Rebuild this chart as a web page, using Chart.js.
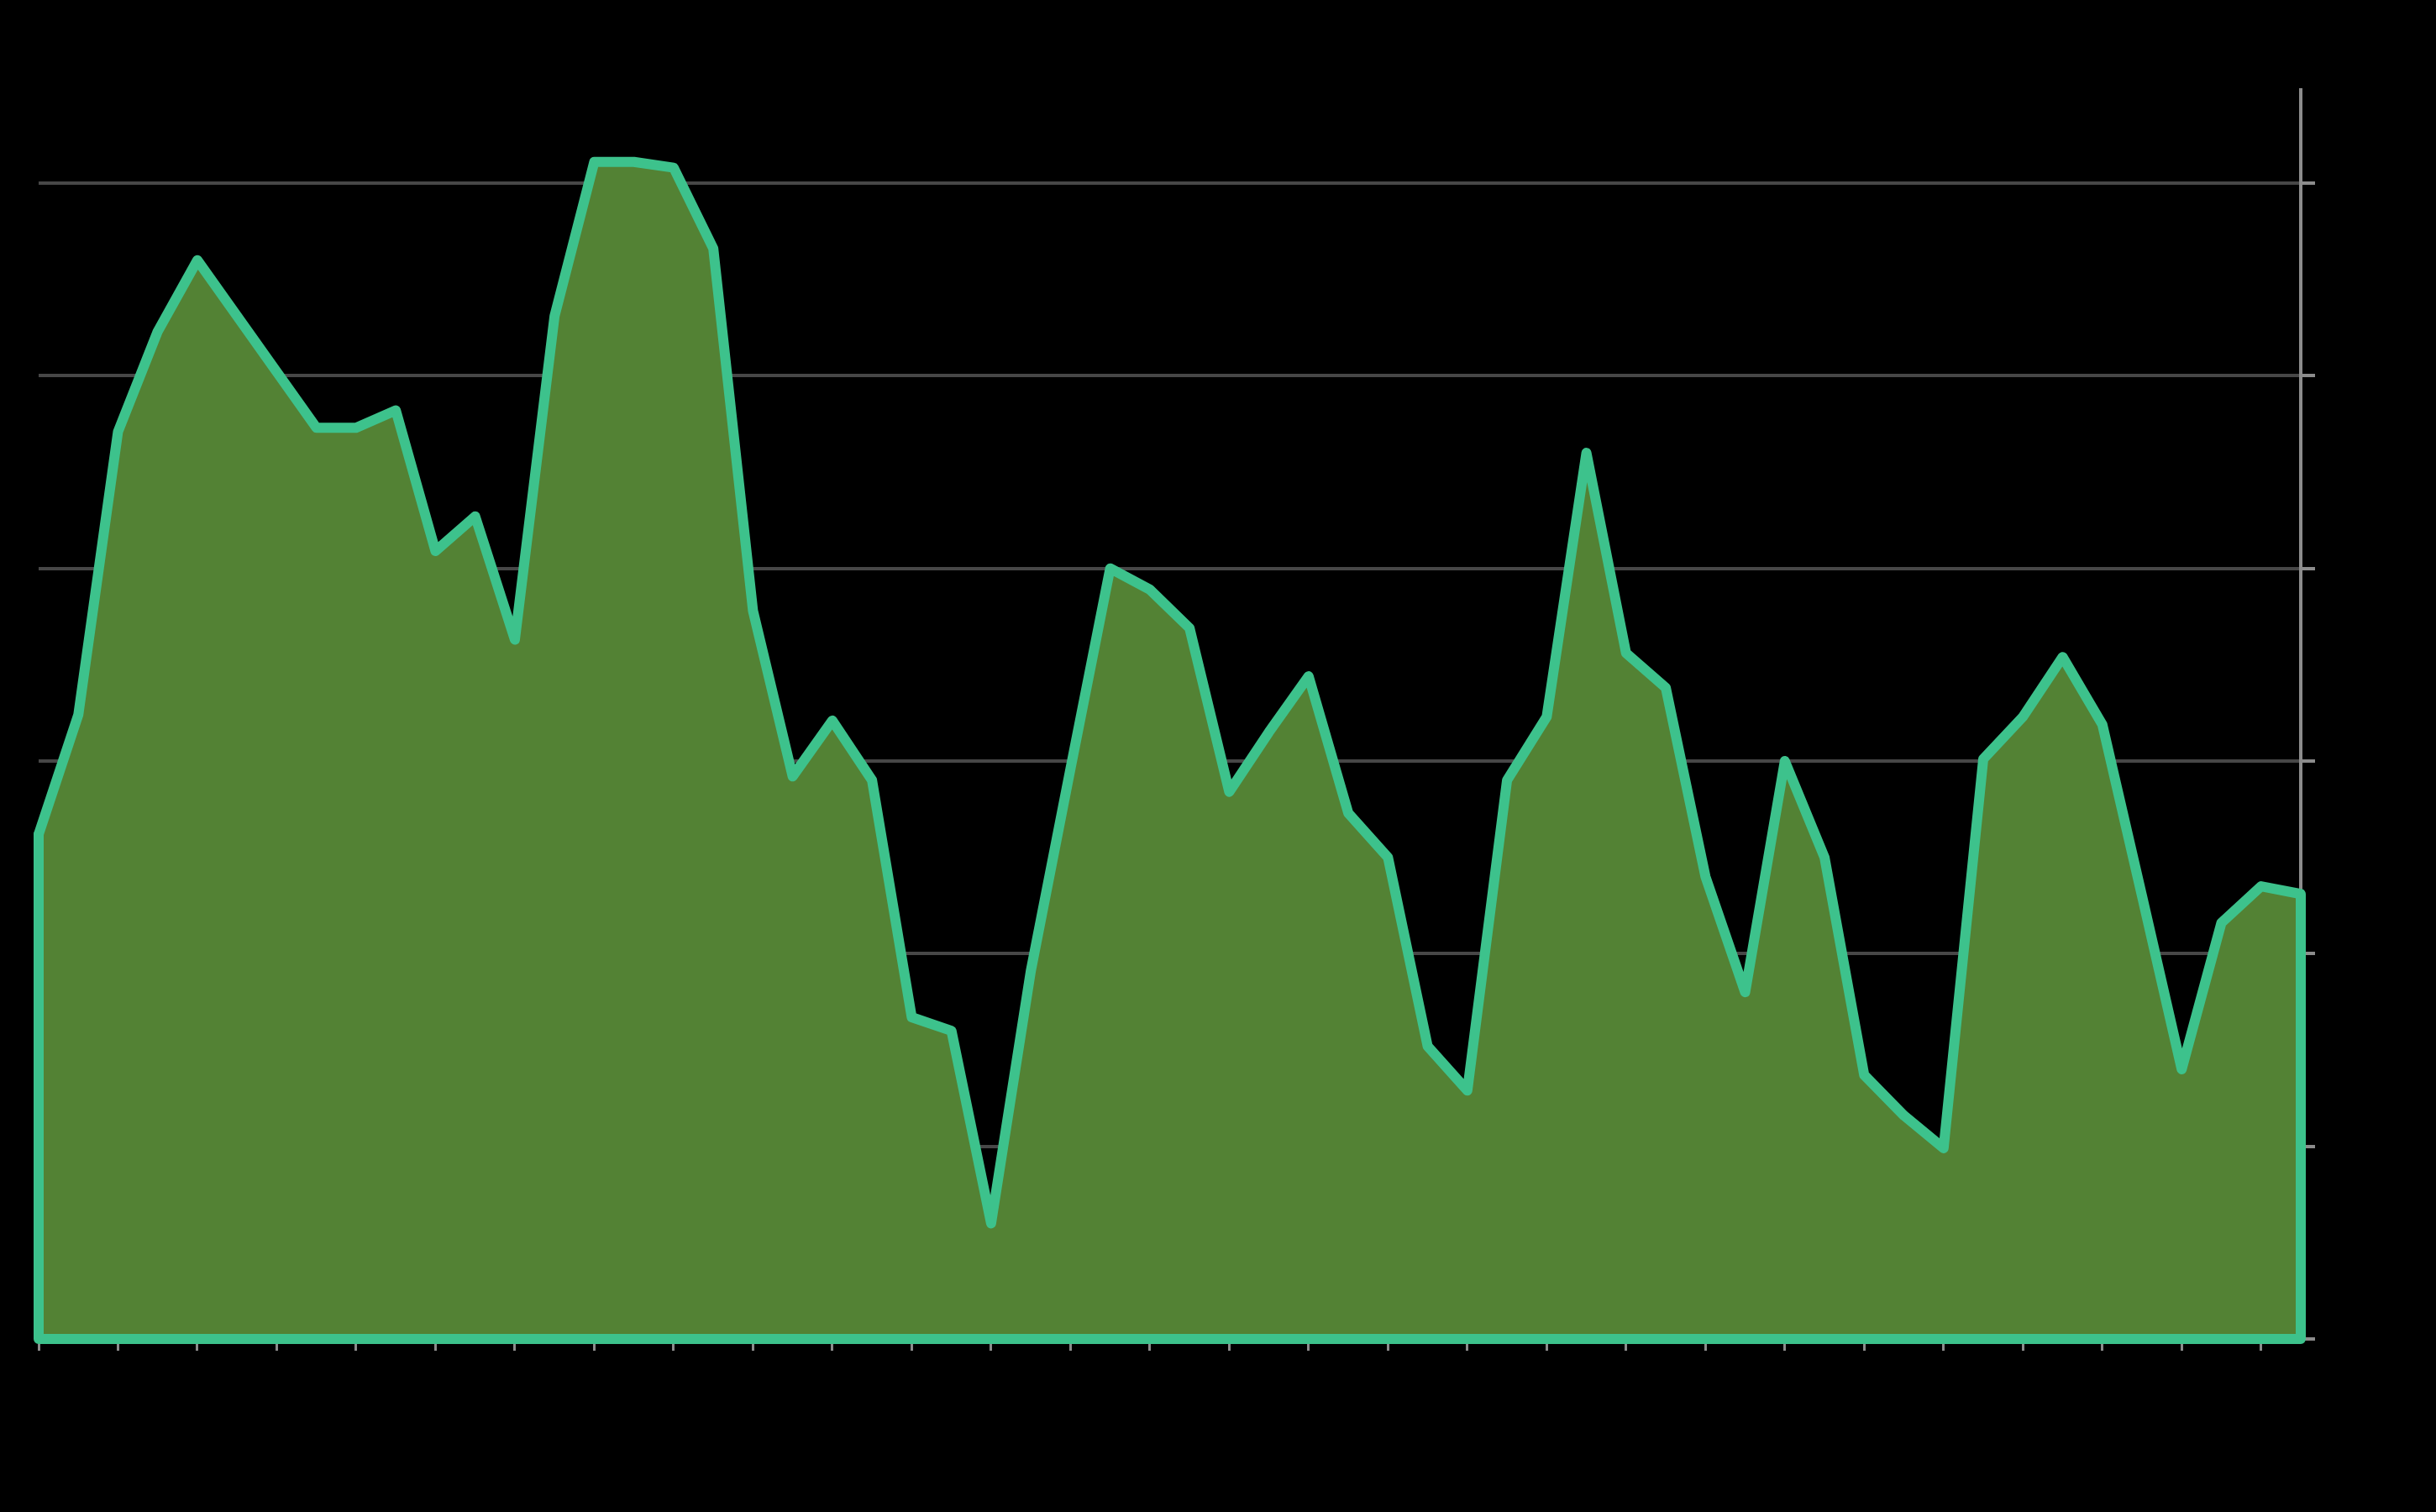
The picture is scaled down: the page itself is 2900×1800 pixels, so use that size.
<!DOCTYPE html>
<html>
<head>
<meta charset="utf-8">
<script src="https://cdn.jsdelivr.net/npm/chart.js@4/dist/chart.umd.min.js"></script>
<style>
    html, body { margin: 0; padding: 0; background: #000; }
    #wrap { width: 2900px; height: 1800px; }
</style>
</head>
<body>
<div id="wrap"><canvas id="areaChart"></canvas></div>
<script>
// values, one per point (58 points)
const values = [
    2.62, 3.24, 4.71, 5.23, 5.60, 5.31, 5.02, 4.73, 4.73, 4.82,
    4.09, 4.27, 3.63, 5.31, 6.11, 6.11, 6.08, 5.66, 3.78, 2.92,
    3.21, 2.90, 1.67, 1.60, 0.60, 1.91, 2.96, 4.00, 3.89, 3.69,
    2.84, 3.15, 3.44, 2.73, 2.50, 1.52, 1.29, 2.90, 3.23, 4.60,
    3.56, 3.38, 2.40, 1.80, 3.00, 2.50, 1.37, 1.16, 0.99, 3.01,
    3.23, 3.54, 3.19, 2.30, 1.40, 2.16, 2.35, 2.31
];
const labels = values.map((v, i) => String(i));
const yMax = 6.484;

const lineColor = '#3dc28c';
const fillColor = '#538234';
const axisGray = '#8c8c8c';

// left edge, bottom and right edge of the filled area
const first = labels[0];
const last = labels[labels.length - 1];
const outline = [
    { x: first, y: values[0] },
    { x: first, y: 0 },
    { x: last, y: 0 },
    { x: last, y: values[values.length - 1] }
];

new Chart(document.getElementById('areaChart'), {
    type: 'line',
    data: {
        labels: labels,
        datasets: [{
            data: outline,
            borderColor: lineColor,
            borderWidth: 12,
            borderJoinStyle: 'round',
            fill: false,
            pointRadius: 0,
            tension: 0,
            clip: false
        }, {
            data: values,
            borderColor: lineColor,
            backgroundColor: fillColor,
            borderWidth: 12,
            borderJoinStyle: 'round',
            borderCapStyle: 'round',
            fill: 'origin',
            pointRadius: 0,
            tension: 0,
            clip: false
        }]
    },
    options: {
        responsive: true,
        maintainAspectRatio: false,
        animation: false,
        layout: {
            padding: { left: 46, top: 107, right: 144, bottom: 192 }
        },
        plugins: {
            legend: { display: false },
            tooltip: { enabled: false }
        },
        scales: {
            x: {
                type: 'category',
                offset: false,
                ticks: { display: false },
                grid: {
                    drawOnChartArea: false,
                    drawTicks: true,
                    tickLength: 14,
                    tickWidth: 3,
                    tickColor: ctx => ctx.index % 2 === 0 ? axisGray : 'rgba(0,0,0,0)'
                },
                border: { color: axisGray, width: 3 }
            },
            y: {
                position: 'right',
                min: 0,
                max: yMax,
                ticks: { display: false, stepSize: 1 },
                afterBuildTicks: scale => {
                    scale.ticks = scale.ticks.filter(t => Number.isInteger(t.value));
                },
                grid: {
                    color: '#474747',
                    lineWidth: 4,
                    drawTicks: true,
                    tickLength: 17,
                    tickWidth: 4,
                    tickColor: axisGray
                },
                border: { color: axisGray, width: 4 }
            }
        }
    }
});
</script>
</body>
</html>
